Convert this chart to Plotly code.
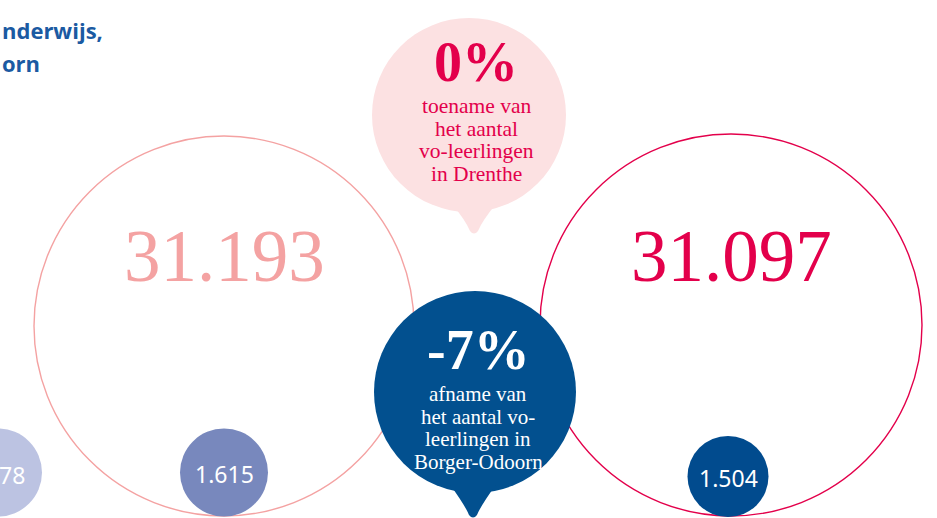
import math
import plotly.graph_objects as go

# ---------------- data ----------------
totals = [31193, 31097]                      # Drenthe vo-leerlingen (two years)
small_values_labels = ["78", "1.615", "1.504"]  # Borger-Odoorn circles (left one cropped)
pct_values = [0, -7]
pct_captions = [
    ["toename van", "het aantal", "vo-leerlingen", "in Drenthe"],
    ["afname van", "het aantal vo-", "leerlingen in", "Borger-Odoorn"],
]
title_lines = ["nderwijs,", "orn"]

# ---------------- layout / style ----------------
W, H = 937, 518
PINK_LINE = "#F4A2A2"
CRIMSON = "#E3004B"
PINK_FILL = "#FCE1E2"
DARK_BLUE = "#02508F"
TITLE_BLUE = "#1B5AA2"
SERIF = "Liberation Serif, Times New Roman, serif"
SANS = "Noto Sans, Open Sans, sans-serif"

big_pos = [(224, 326, 190), (731, 325, 191)]
big_colors = [PINK_LINE, CRIMSON]
bubble_pos = [(469, 115, 97), (475, 392, 101)]
bubble_tip = [(474, 235), (473, 519)]
bubble_fill = [PINK_FILL, DARK_BLUE]
bubble_text = [CRIMSON, "white"]
bubble_text_y = [(62, 106), (350, 394)]
bubble_text_x = [476, 478]
caption_size = [21.5, 21]
small_pos = [(-2, 472.5, 44), (224, 472.5, 44), (728, 476.5, 40.5)]
small_colors = ["#BCC3E2", "#7888BD", "#014B8E"]

fig = go.Figure()
fig.add_trace(go.Scatter(x=[0, W], y=[0, H], mode="markers",
                         marker=dict(opacity=0), hoverinfo="skip", showlegend=False))

shapes = []
annotations = []

# big outline circles with totals
for (cx, cy, r), col, val in zip(big_pos, big_colors, totals):
    shapes.append(dict(type="circle", xref="x", yref="y",
                       x0=cx - r, x1=cx + r, y0=cy - r, y1=cy + r,
                       line=dict(color=col, width=1.4), fillcolor="rgba(0,0,0,0)",
                       layer="below"))
    annotations.append(dict(x=cx, y=256, xref="x", yref="y",
                            text=f"{val:,}".replace(",", "."), showarrow=False,
                            font=dict(family=SERIF, size=73, color=col),
                            xanchor="center", yanchor="middle"))

# speech bubbles
for (cx, cy, r), (tx, ty), fill, tcol, pv, cap, (py, ly0), txc, cs in zip(
        bubble_pos, bubble_tip, bubble_fill, bubble_text, pct_values, pct_captions,
        bubble_text_y, bubble_text_x, caption_size):
    shapes.append(dict(type="circle", xref="x", yref="y",
                       x0=cx - r, x1=cx + r, y0=cy - r, y1=cy + r,
                       line=dict(width=0), fillcolor=fill, layer="above"))
    by = cy + r * 0.90
    half = math.sqrt(r * r - (by - cy) ** 2) * 0.55
    path = (f"M {tx-half},{by} Q {tx-8},{ty-14} {tx-4},{ty-4} Q {tx},{ty+1} {tx+4},{ty-4} "
            f"Q {tx+8},{ty-14} {tx+half},{by} Z")
    shapes.append(dict(type="path", xref="x", yref="y", path=path,
                       line=dict(width=0), fillcolor=fill, layer="above"))
    annotations.append(dict(x=txc, y=py, xref="x", yref="y",
                            text=f"<b>{pv}%</b>", showarrow=False,
                            font=dict(family=SERIF, size=56, color=tcol),
                            xanchor="center", yanchor="middle"))
    for i, line in enumerate(cap):
        annotations.append(dict(x=txc, y=ly0 + i * 22.5, xref="x", yref="y",
                                text=line, showarrow=False,
                                font=dict(family=SERIF, size=cs, color=tcol),
                                xanchor="center", yanchor="middle"))

# small filled circles
for k, ((cx, cy, r), col, lab) in enumerate(zip(small_pos, small_colors, small_values_labels)):
    shapes.append(dict(type="circle", xref="x", yref="y",
                       x0=cx - r, x1=cx + r, y0=cy - r, y1=cy + r,
                       line=dict(width=0), fillcolor=col, layer="above"))
    if k == 0:
        annotations.append(dict(x=27, y=cy + 2, xref="x", yref="y", text=lab,
                                showarrow=False, font=dict(family=SANS, size=23, color="white"),
                                xanchor="right", yanchor="middle"))
    else:
        annotations.append(dict(x=cx, y=cy + 1.5, xref="x", yref="y", text=lab,
                                showarrow=False, font=dict(family=SANS, size=23, color="white"),
                                xanchor="center", yanchor="middle"))

# cropped title
annotations.append(dict(x=0, y=30, xref="x", yref="y",
                        text=f"<b>{title_lines[0]}</b>", showarrow=False,
                        font=dict(family="Open Sans, sans-serif", size=22, color=TITLE_BLUE),
                        xanchor="left", yanchor="middle"))
annotations.append(dict(x=0, y=63, xref="x", yref="y",
                        text=f"<b>{title_lines[1]}</b>", showarrow=False,
                        font=dict(family="Open Sans, sans-serif", size=22, color=TITLE_BLUE),
                        xanchor="left", yanchor="middle"))

fig.update_layout(
    width=W, height=H, autosize=False,
    margin=dict(l=0, r=0, t=0, b=0),
    paper_bgcolor="white", plot_bgcolor="white",
    xaxis=dict(range=[0, W], visible=False, fixedrange=True),
    yaxis=dict(range=[H, 0], visible=False, fixedrange=True),
    shapes=shapes, annotations=annotations, showlegend=False,
)

fig.write_html("out.html", config={"displayModeBar": False},
               post_script="document.body.style.margin='0';")
